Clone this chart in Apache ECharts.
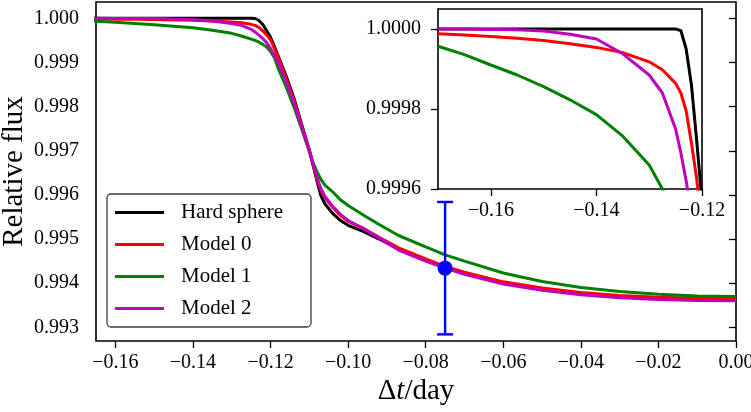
<!DOCTYPE html>
<html>
<head>
<meta charset="utf-8">
<script src="https://cdn.jsdelivr.net/npm/echarts@6/dist/echarts.min.js"></script>
<style>
html, body { margin: 0; padding: 0; background: #fff; }
#chart { width: 751px; height: 412px; }
</style>
</head>
<body>
<div id="chart"></div>
<script>
// time from mid-transit (day)
var tDay = [-0.170, -0.165, -0.160, -0.155, -0.150, -0.145, -0.140, -0.135, -0.130, -0.1275,
    -0.125, -0.124, -0.123, -0.122, -0.121, -0.120, -0.119, -0.118, -0.116, -0.114,
    -0.112, -0.110, -0.109, -0.108, -0.107, -0.106, -0.104, -0.102, -0.100, -0.096,
    -0.092, -0.087, -0.080, -0.075, -0.070, -0.060, -0.050, -0.040, -0.030, -0.020,
    -0.010, 0.000];

var hardSphere = [1.0, 1.0, 1.0, 1.0, 1.0, 1.0, 1.0, 1.0, 1.0, 1.0,
    1.0, 0.999996, 0.99995, 0.99986, 0.99972, 0.99957, 0.99936, 0.99914, 0.99870, 0.99820,
    0.99761, 0.99701, 0.99666, 0.99630, 0.99598, 0.99580, 0.99558, 0.99542, 0.99531, 0.99517,
    0.99500, 0.99477, 0.99452, 0.99436, 0.99422, 0.99401, 0.99387, 0.99377, 0.99370, 0.99366,
    0.99364, 0.99363];

var model0 = [0.999988, 0.999985, 0.999981, 0.999977, 0.999971, 0.999963, 0.999954, 0.999941, 0.999918, 0.999898,
    0.999864, 0.999840, 0.999795, 0.999715, 0.999625, 0.99951, 0.99932, 0.99911, 0.99864, 0.99815,
    0.99758, 0.99701, 0.99668, 0.99634, 0.99610, 0.99594, 0.99572, 0.99553, 0.99540, 0.99524,
    0.99504, 0.99480, 0.99455, 0.99438, 0.99425, 0.99403, 0.99389, 0.99379, 0.99372, 0.99368,
    0.99366, 0.99365];

var model1 = [0.999957, 0.999936, 0.999910, 0.999885, 0.999856, 0.999823, 0.999786, 0.999732, 0.99966, 0.99960,
    0.99953, 0.99950, 0.99946, 0.99941, 0.99935, 0.99925, 0.99911, 0.99886, 0.99845, 0.99800,
    0.99750, 0.99698, 0.99672, 0.99652, 0.99635, 0.99622, 0.99607, 0.99589, 0.99576, 0.99554,
    0.99533, 0.99508, 0.99482, 0.99464, 0.99450, 0.99423, 0.99404, 0.99390, 0.99381, 0.99375,
    0.99371, 0.99370];

var model2 = [1.0, 1.0, 0.999999, 0.999998, 0.999995, 0.999987, 0.999975, 0.999938, 0.999885, 0.99984,
    0.99975, 0.99969, 0.99962, 0.99954, 0.99945, 0.99932, 0.99916, 0.99899, 0.99857, 0.99810,
    0.99756, 0.99701, 0.99670, 0.99638, 0.99614, 0.99597, 0.99574, 0.99556, 0.99542, 0.99523,
    0.99502, 0.99475, 0.99450, 0.99434, 0.99420, 0.99398, 0.99384, 0.99374, 0.99367, 0.99363,
    0.99361, 0.99360];

var seriesNames = ['Hard sphere', 'Model 0', 'Model 1', 'Model 2'];
var seriesColors = ['#000000', '#ff0000', '#008000', '#bf00bf'];

// single data point with error bar
var errT = [-0.075];
var errFlux = [0.99434];
var errSigma = [0.0015];

// ticks
var mainXTicks = [-0.16, -0.14, -0.12, -0.10, -0.08, -0.06, -0.04, -0.02, 0.00];
var mainYTicks = [0.993, 0.994, 0.995, 0.996, 0.997, 0.998, 0.999, 1.000];
var insetXTicks = [-0.16, -0.14, -0.12];
var insetYTicks = [0.9996, 0.9998, 1.0000];

var FONT = 'Liberation Serif';

function fmtX(v) {
    var s = Math.abs(v).toFixed(2);
    return v < -1e-9 ? '\u2212' + s : s;
}

function zip(xs, ys) {
    return xs.map(function(x, i) { return [x, ys[i]]; });
}

var allY = [hardSphere, model0, model1, model2];

function axisX(gridIndex, min, max, ticks, withName) {
    var ax = {
        type: 'value', gridIndex: gridIndex, min: min, max: max,
        splitLine: { show: false },
        axisLine: { show: false },
        axisTick: { show: true, length: 7, customValues: ticks, lineStyle: { color: '#000', width: 1.3 } },
        axisLabel: {
            customValues: ticks, formatter: fmtX, margin: 12,
            fontFamily: FONT, fontSize: 20, color: '#000'
        }
    };
    if (withName) {
        ax.name = '{n|\u0394}{i|t}{n|/day}';
        ax.nameLocation = 'middle';
        ax.nameGap = 36;
        ax.nameMoveOverlap = false;
        ax.nameTextStyle = {
            rich: {
                n: { fontFamily: FONT, fontSize: 29, color: '#000' },
                i: { fontFamily: FONT, fontSize: 29, fontStyle: 'italic', color: '#000' }
            }
        };
    }
    return ax;
}

function axisY(gridIndex, min, max, ticks, digits, withName) {
    var ax = {
        type: 'value', gridIndex: gridIndex, min: min, max: max, scale: true,
        splitLine: { show: false },
        axisLine: { show: false },
        axisTick: { show: true, length: 7, customValues: ticks, lineStyle: { color: '#000', width: 1.3 } },
        axisLabel: {
            customValues: ticks, margin: 17,
            formatter: function(v) { return v.toFixed(digits); },
            fontFamily: FONT, fontSize: 20, color: '#000'
        }
    };
    if (withName) {
        ax.name = 'Relative flux';
        ax.nameLocation = 'middle';
        ax.nameGap = 67;
        ax.nameMoveOverlap = false;
        ax.nameTextStyle = { fontFamily: FONT, fontSize: 29, color: '#000' };
    }
    return ax;
}

var series = [];
[0, 1].forEach(function(g) {
    for (var k = 0; k < 4; k++) {
        series.push({
            type: 'line', name: seriesNames[k],
            xAxisIndex: g, yAxisIndex: g,
            data: zip(tDay, allY[k]),
            showSymbol: false, symbol: 'none', clip: true,
            color: seriesColors[k],
            lineStyle: { color: seriesColors[k], width: 3 },
            z: 2 + k
        });
    }
});

series.push({
    type: 'custom', name: 'err',
    xAxisIndex: 0, yAxisIndex: 0, z: 10,
    data: errT.map(function(t, i) { return [t, errFlux[i] - errSigma[i], errFlux[i] + errSigma[i]]; }),
    renderItem: function(params, api) {
        var lo = api.coord([api.value(0), api.value(1)]);
        var hi = api.coord([api.value(0), api.value(2)]);
        var w = 8;
        var st = { stroke: '#0000ff', lineWidth: 2.4 };
        return {
            type: 'group',
            children: [
                { type: 'line', shape: { x1: lo[0], y1: lo[1], x2: hi[0], y2: hi[1] }, style: st },
                { type: 'line', shape: { x1: lo[0] - w, y1: lo[1], x2: lo[0] + w, y2: lo[1] }, style: st },
                { type: 'line', shape: { x1: hi[0] - w, y1: hi[1], x2: hi[0] + w, y2: hi[1] }, style: st }
            ]
        };
    }
});

series.push({
    type: 'scatter', name: 'obs',
    xAxisIndex: 0, yAxisIndex: 0, z: 11,
    data: zip(errT, errFlux),
    symbol: 'circle', symbolSize: 15,
    itemStyle: { color: '#0000ff', opacity: 1 }
});

var chart = echarts.init(document.getElementById('chart'), null, { renderer: 'canvas' });

var option = {
    animation: false,
    backgroundColor: '#fff',
    grid: [
        { left: 96, top: 2, right: 15, bottom: 71, outerBoundsMode: 'none', containLabel: false,
          show: true, borderColor: '#000', borderWidth: 1.6, backgroundColor: 'transparent' },
        { left: 438, top: 9, right: 49, height: 180, outerBoundsMode: 'none', containLabel: false,
          show: true, borderColor: '#000', borderWidth: 1.6, backgroundColor: '#fff' }
    ],
    xAxis: [
        axisX(0, -0.165, 0.0, mainXTicks, true),
        axisX(1, -0.17, -0.12, insetXTicks, false)
    ],
    yAxis: [
        axisY(0, 0.99269, 1.00037, mainYTicks, 3, true),
        axisY(1, 0.9996, 1.00005, insetYTicks, 4, false)
    ],
    legend: {
        data: seriesNames,
        orient: 'vertical',
        left: 107, top: 194,
        backgroundColor: '#fff',
        borderColor: '#3c3c3c', borderWidth: 1.3, borderRadius: 4,
        padding: [8, 17, 8, 8],
        icon: 'rect',
        itemWidth: 49, itemHeight: 3, itemGap: 11,
        selectedMode: false,
        textStyle: { fontFamily: FONT, fontSize: 21, lineHeight: 21, color: '#000', padding: [0, 0, 0, 12], width: 113 }
    },
    series: series
};

chart.setOption(option);
</script>
</body>
</html>
